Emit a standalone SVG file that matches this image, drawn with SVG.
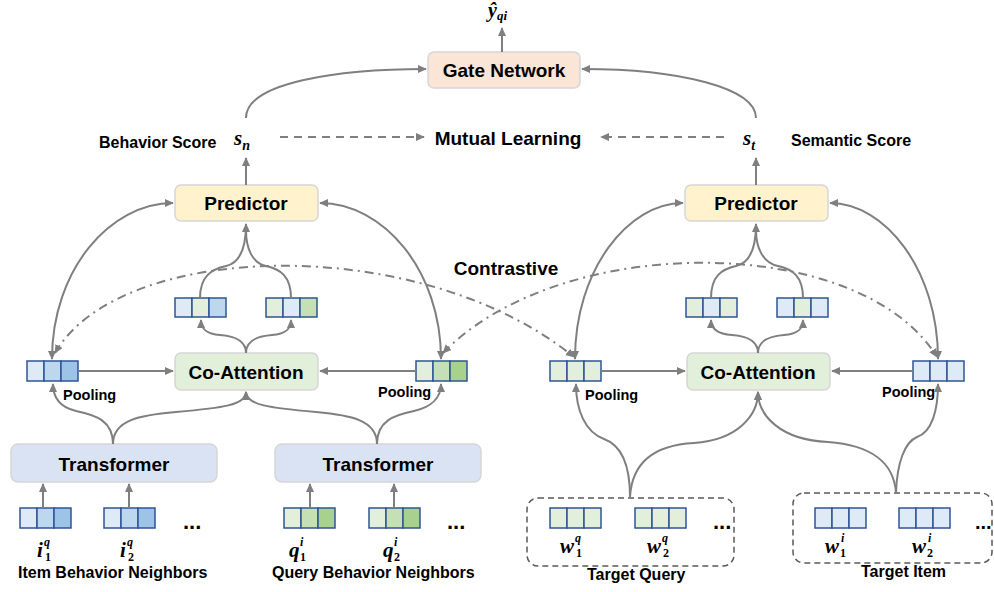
<svg xmlns="http://www.w3.org/2000/svg" width="994" height="592" viewBox="0 0 994 592">
<defs>
<marker id="ah" viewBox="0 0 10 10" refX="9" refY="5" markerWidth="9" markerHeight="9" markerUnits="userSpaceOnUse" orient="auto-start-reverse"><path d="M0,0.5 L10,5 L0,9.5 z" fill="#7f7f7f"/></marker>
</defs>
<style>
.box{stroke:#d6d6d6;stroke-width:1.5}
.lbl{font-family:"Liberation Sans",Arial,sans-serif;font-weight:bold;fill:#000}
.big{font-size:19px;text-anchor:middle}
.mid{font-size:16px}
.sm{font-size:14.5px}
.math{font-family:"Liberation Serif","DejaVu Serif",serif;font-weight:bold;font-style:italic;fill:#000}
.sub{font-style:normal}
.c{stroke:#2f5597;stroke-width:1.5}
.b1{fill:#deebf7}.b2{fill:#bdd7ee}.b3{fill:#9dc3e6}
.g1{fill:#e2efda}.g2{fill:#c5e0b4}.g3{fill:#a9d18e}
.ln{fill:none;stroke:#7f7f7f;stroke-width:2}
.arr{marker-end:url(#ah)}
.two{marker-start:url(#ah);marker-end:url(#ah)}
.dash{stroke-dasharray:8,6}
.dd{fill:none;stroke:#7f7f7f;stroke-width:2;stroke-dasharray:9,5,2,5}
.dbox{fill:none;stroke:#595959;stroke-width:1.5;stroke-dasharray:6,4}
</style>

<!-- nodes -->
<g id="gate">
<rect class="box" x="428" y="52" width="152" height="36" rx="6" fill="#fbe5d6"/>
<text class="lbl big" x="504" y="77">Gate Network</text>
</g>
<g id="yhat"><text class="math" x="488" y="17" font-size="20">ŷ<tspan font-size="13" dy="3">qi</tspan></text></g>
<g id="sn"><text class="math" x="234" y="145" font-size="21">s<tspan font-size="14" dy="5">n</tspan></text></g>
<g id="st"><text class="math" x="743" y="145" font-size="21">s<tspan font-size="14" dy="5">t</tspan></text></g>
<g id="behavior-score"><text class="lbl mid" x="99" y="148">Behavior Score</text></g>
<g id="semantic-score"><text class="lbl mid" x="791" y="146">Semantic Score</text></g>
<g id="mutual"><text class="lbl big" x="508" y="145">Mutual Learning</text></g>
<g id="contrastive"><text class="lbl big" x="506" y="275">Contrastive</text></g>

<g id="predictor-l">
<rect class="box" x="175" y="185" width="143" height="36" rx="6" fill="#fff2cc"/>
<text class="lbl big" x="246" y="210">Predictor</text>
</g>
<g id="predictor-r">
<rect class="box" x="685" y="185" width="143" height="36" rx="6" fill="#fff2cc"/>
<text class="lbl big" x="756" y="210">Predictor</text>
</g>
<g id="coatt-l">
<rect class="box" x="175" y="353" width="143" height="37" rx="6" fill="#e2efda"/>
<text class="lbl big" x="246" y="379">Co-Attention</text>
</g>
<g id="coatt-r">
<rect class="box" x="687" y="353" width="143" height="37" rx="6" fill="#e2efda"/>
<text class="lbl big" x="758" y="379">Co-Attention</text>
</g>
<g id="trans-l">
<rect class="box" x="11" y="444" width="206" height="38" rx="7" fill="#dae3f3"/>
<text class="lbl big" x="114" y="471" font-size="18.5">Transformer</text>
</g>
<g id="trans-r">
<rect class="box" x="275" y="444" width="206" height="38" rx="7" fill="#dae3f3"/>
<text class="lbl big" x="378" y="471" font-size="18.5">Transformer</text>
</g>

<!-- vectors -->
<g id="pool-item">
<rect class="c b1" x="27" y="361" width="17" height="20"/><rect class="c b2" x="44" y="361" width="17" height="20"/><rect class="c b3" x="61" y="361" width="17" height="20"/>
<text class="lbl sm" x="63" y="400">Pooling</text>
</g>
<g id="pool-query">
<rect class="c g1" x="416" y="361" width="17" height="20"/><rect class="c g2" x="433" y="361" width="17" height="20"/><rect class="c g3" x="450" y="361" width="17" height="20"/>
<text class="lbl sm" x="378" y="397">Pooling</text>
</g>
<g id="mid-l1">
<rect class="c b1" x="175" y="298" width="17" height="19"/><rect class="c g1" x="192" y="298" width="17" height="19"/><rect class="c b2" x="209" y="298" width="17" height="19"/>
</g>
<g id="mid-l2">
<rect class="c g1" x="266" y="298" width="17" height="19"/><rect class="c b1" x="283" y="298" width="17" height="19"/><rect class="c g2" x="300" y="298" width="17" height="19"/>
</g>
<g id="pool-tq">
<rect class="c g1" x="550" y="361" width="17" height="20"/><rect class="c g1" x="567" y="361" width="17" height="20"/><rect class="c g1" x="584" y="361" width="17" height="20"/>
<text class="lbl sm" x="585" y="400">Pooling</text>
</g>
<g id="pool-ti">
<rect class="c b1" x="913" y="361" width="17" height="20"/><rect class="c b1" x="930" y="361" width="17" height="20"/><rect class="c b1" x="947" y="361" width="17" height="20"/>
<text class="lbl sm" x="882" y="397">Pooling</text>
</g>
<g id="mid-r1">
<rect class="c g1" x="686" y="298" width="17" height="19"/><rect class="c b1" x="703" y="298" width="17" height="19"/><rect class="c g1" x="720" y="298" width="17" height="19"/>
</g>
<g id="mid-r2">
<rect class="c b1" x="777" y="298" width="17" height="19"/><rect class="c g1" x="794" y="298" width="17" height="19"/><rect class="c b1" x="811" y="298" width="17" height="19"/>
</g>

<!-- inputs -->
<g id="item-neighbors">
<rect class="c b1" x="20" y="508" width="17" height="20"/><rect class="c b2" x="37" y="508" width="17" height="20"/><rect class="c b3" x="54" y="508" width="17" height="20"/>
<rect class="c b1" x="104" y="508" width="17" height="20"/><rect class="c b2" x="121" y="508" width="17" height="20"/><rect class="c b3" x="138" y="508" width="17" height="20"/>
<text class="lbl" x="183" y="529" font-size="22">...</text>
<text class="math"><tspan x="37" y="557" font-size="21">i</tspan><tspan x="44" y="546" font-size="12">q</tspan><tspan class="sub" x="45" y="561" font-size="12">1</tspan></text>
<text class="math"><tspan x="120" y="557" font-size="21">i</tspan><tspan x="127" y="546" font-size="12">q</tspan><tspan class="sub" x="128" y="561" font-size="12">2</tspan></text>
<text class="lbl mid" x="18" y="578">Item Behavior Neighbors</text>
</g>
<g id="query-neighbors">
<rect class="c g1" x="284" y="508" width="17" height="20"/><rect class="c g2" x="301" y="508" width="17" height="20"/><rect class="c g3" x="318" y="508" width="17" height="20"/>
<rect class="c g1" x="369" y="508" width="17" height="20"/><rect class="c g2" x="386" y="508" width="17" height="20"/><rect class="c g3" x="403" y="508" width="17" height="20"/>
<text class="lbl" x="447" y="529" font-size="22">...</text>
<text class="math"><tspan x="289" y="557" font-size="21">q</tspan><tspan x="300" y="546" font-size="12">i</tspan><tspan class="sub" x="300" y="561" font-size="12">1</tspan></text>
<text class="math"><tspan x="383" y="557" font-size="21">q</tspan><tspan x="394" y="546" font-size="12">i</tspan><tspan class="sub" x="394" y="561" font-size="12">2</tspan></text>
<text class="lbl mid" x="272" y="578">Query Behavior Neighbors</text>
</g>
<g id="target-query">
<rect class="dbox" x="527" y="498" width="207" height="68" rx="11"/>
<rect class="c g1" x="550" y="508" width="17" height="20"/><rect class="c g1" x="567" y="508" width="17" height="20"/><rect class="c g1" x="584" y="508" width="17" height="20"/>
<rect class="c g1" x="635" y="508" width="17" height="20"/><rect class="c g1" x="652" y="508" width="17" height="20"/><rect class="c g1" x="669" y="508" width="17" height="20"/>
<text class="lbl" x="713" y="529" font-size="22">...</text>
<text class="math"><tspan x="560" y="553" font-size="21">w</tspan><tspan x="575" y="542" font-size="12">q</tspan><tspan class="sub" x="576" y="557" font-size="12">1</tspan></text>
<text class="math"><tspan x="647" y="553" font-size="21">w</tspan><tspan x="662" y="542" font-size="12">q</tspan><tspan class="sub" x="663" y="557" font-size="12">2</tspan></text>
<text class="lbl mid" x="587" y="580">Target Query</text>
</g>
<g id="target-item">
<rect class="dbox" x="793" y="493" width="199" height="70" rx="11"/>
<rect class="c b1" x="815" y="508" width="17" height="20"/><rect class="c b1" x="832" y="508" width="17" height="20"/><rect class="c b1" x="849" y="508" width="17" height="20"/>
<rect class="c b1" x="899" y="508" width="17" height="20"/><rect class="c b1" x="916" y="508" width="17" height="20"/><rect class="c b1" x="933" y="508" width="17" height="20"/>
<text class="lbl" x="975" y="529" font-size="20">...</text>
<text class="math"><tspan x="825" y="553" font-size="21">w</tspan><tspan x="841" y="542" font-size="12">i</tspan><tspan class="sub" x="840" y="557" font-size="12">1</tspan></text>
<text class="math"><tspan x="912" y="553" font-size="21">w</tspan><tspan x="928" y="542" font-size="12">i</tspan><tspan class="sub" x="927" y="557" font-size="12">2</tspan></text>
<text class="lbl mid" x="861" y="577">Target Item</text>
</g>

<!-- connectors -->
<g id="connectors">
<path class="ln arr" d="M502,52 L502,28"/>
<path class="ln arr" d="M246,118 C246,82 340,69 426,69"/>
<path class="ln arr" d="M756,118 C756,88 680,69 582,69"/>
<path class="ln arr dash" d="M280,137 L424,137"/>
<path class="ln arr dash" d="M724,137 L601,137"/>
<path class="ln arr" d="M246,185 L246,158"/>
<path class="ln arr" d="M756,185 L756,158"/>

<!-- left group -->
<path class="ln two" d="M52,359 C52,270 110,203 173,203"/>
<path class="ln two" d="M441,359 C441,270 383,203 320,203"/>
<path class="ln arr" d="M79,371 L173,371"/>
<path class="ln arr" d="M416,371 L320,371"/>
<path class="ln arr" d="M246,353 C246,339 232,336 220,335 C206,334 201,329 201,320"/>
<path class="ln arr" d="M246,353 C246,339 260,336 272,335 C286,334 291,329 291,320"/>
<path class="ln arr" d="M200,298 C200,276 212,269 226,266 C240,263 246,248 246,224"/>
<path class="ln" d="M291,298 C291,276 280,269 266,266 C252,263 246,248 246,230"/>
<path class="ln arr" d="M113,444 C113,421 96,415 76,411 C59,407 53,397 53,384"/>
<path class="ln arr" d="M113,444 C113,420 140,415 176,412 C222,408 246,405 246,392"/>
<path class="ln arr" d="M377,444 C377,420 350,415 316,412 C270,408 246,405 246,392"/>
<path class="ln arr" d="M377,444 C377,421 394,415 414,411 C432,407 441,397 441,384"/>
<path class="ln arr" d="M43,508 L43,484"/>
<path class="ln arr" d="M129,508 L129,484"/>
<path class="ln arr" d="M310,508 L310,484"/>
<path class="ln arr" d="M394,508 L394,484"/>

<!-- right group -->
<path class="ln two" d="M575,359 C575,270 628,203 683,203"/>
<path class="ln two" d="M938,359 C938,270 885,203 830,203"/>
<path class="ln arr" d="M601,371 L685,371"/>
<path class="ln arr" d="M913,371 L832,371"/>
<path class="ln arr" d="M758,353 C758,339 744,336 732,335 C717,334 711,329 711,320"/>
<path class="ln arr" d="M758,353 C758,339 772,336 784,335 C798,334 803,329 803,320"/>
<path class="ln arr" d="M711,298 C711,276 722,269 736,266 C750,263 756,248 756,224"/>
<path class="ln" d="M803,298 C803,276 792,269 778,266 C763,263 756,248 756,230"/>
<path class="ln arr" d="M630,497 C630,460 618,444 604,439 C585,432 576,410 576,384"/>
<path class="ln arr" d="M630,497 C632,462 655,445 694,443 C738,440 758,415 758,392"/>
<path class="ln arr" d="M896,493 C894,462 870,445 828,442 C780,440 758,415 758,392"/>
<path class="ln arr" d="M896,493 C897,462 905,442 917,437 C932,432 938,410 938,384"/>

<!-- contrastive -->
<path class="dd two" d="M55,353 C120,240 420,232 574,357"/>
<path class="dd two" d="M443,353 C560,232 860,232 937,357"/>
</g>
</svg>
